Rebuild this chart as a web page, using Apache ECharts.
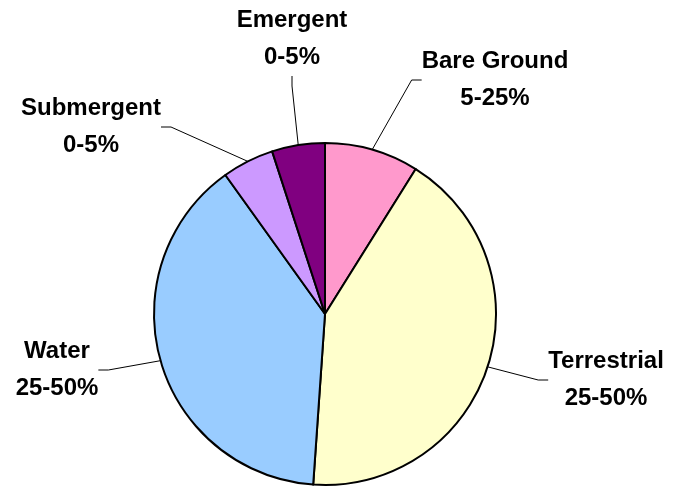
<!DOCTYPE html>
<html>
<head>
<meta charset="utf-8">
<script src="https://cdn.jsdelivr.net/npm/echarts@6/dist/echarts.min.js"></script>
<style>
html, body { margin: 0; padding: 0; background: #fff; }
#main { width: 676px; height: 487px; }
</style>
</head>
<body>
<div id="main"></div>
<script>
var categories = ['Bare Ground', 'Terrestrial', 'Water', 'Submergent', 'Emergent'];
var shares = [8.9, 42.2, 39.0, 4.9, 5.0];
var rangeLabels = ['5-25%', '25-50%', '25-50%', '0-5%', '0-5%'];
var sliceColors = ['#FF99CC', '#FFFFCC', '#99CCFF', '#CC99FF', '#800080'];

// centre of each two-line label block
var labelPos = [[495, 80], [606, 380], [57, 370], [91, 127], [292, 39]];

var chart = echarts.init(document.getElementById('main'));

var pieData = categories.map(function (name, i) {
    return { name: name, value: shares[i], itemStyle: { color: sliceColors[i] } };
});

var option = {
    animation: false,
    series: [
        {
            type: 'pie',
            center: [325, 314],
            radius: 171,
            startAngle: 90,
            clockwise: true,
            avoidLabelOverlap: false,
            data: pieData,
            itemStyle: {
                borderColor: '#000',
                borderWidth: 2
            },
            label: {
                show: true,
                position: 'outside',
                formatter: function (p) {
                    return p.name + '\n' + rangeLabels[p.dataIndex];
                },
                fontFamily: 'Liberation Sans, Arial, sans-serif',
                fontWeight: 'bold',
                fontSize: 24,
                lineHeight: 37,
                color: '#000',
                align: 'center'
            },
            labelLine: {
                show: true,
                length: 20,
                length2: 10,
                lineStyle: { color: '#000', width: 1 }
            },
            labelLayout: function (params) {
                var pos = labelPos[params.dataIndex];
                return {
                    x: pos[0],
                    y: pos[1],
                    align: 'center',
                    verticalAlign: 'middle'
                };
            }
        }
    ]
};

chart.setOption(option);
</script>
</body>
</html>
